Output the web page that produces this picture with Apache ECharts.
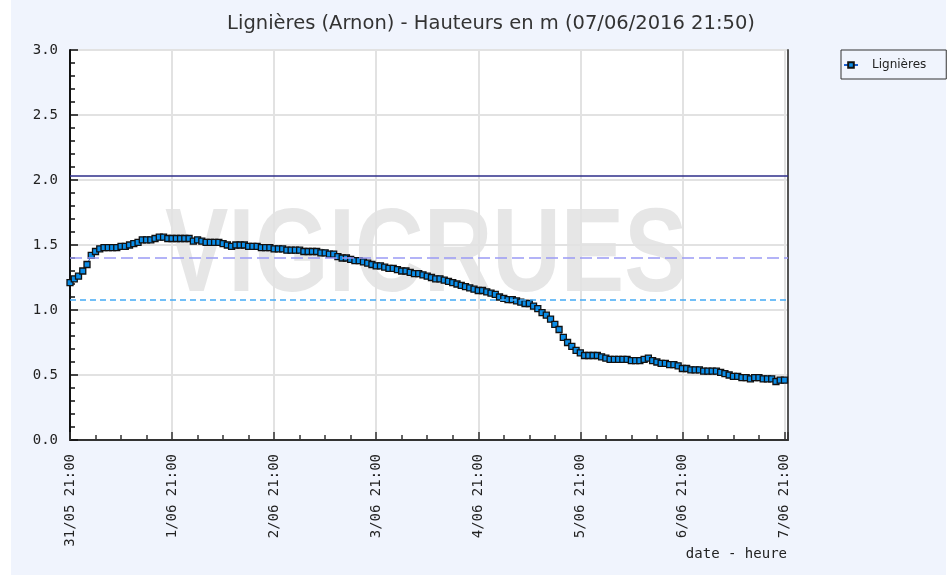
<!DOCTYPE html>
<html>
<head>
<meta charset="utf-8">
<title>Lignières (Arnon)</title>
<script src="https://cdn.jsdelivr.net/npm/echarts@6/dist/echarts.min.js"></script>
<style>
  html, body { margin: 0; padding: 0; background: #fff; }
  #chart { width: 950px; height: 576px; }
</style>
</head>
<body>
<div id="chart"></div>
<script>
// hourly readings from 31/05/2016 21:00 to 07/06/2016 21:00 (m)
const startTime = Date.UTC(2016, 4, 31, 21, 0);
const stepHours = 1;
const heights = [
  1.21, 1.24, 1.26, 1.30, 1.35, 1.42, 1.45, 1.47, 1.48, 1.48,
  1.48, 1.48, 1.49, 1.49, 1.50, 1.51, 1.52, 1.54, 1.54, 1.54,
  1.55, 1.56, 1.56, 1.55, 1.55, 1.55, 1.55, 1.55, 1.55, 1.53,
  1.54, 1.53, 1.52, 1.52, 1.52, 1.52, 1.51, 1.50, 1.49, 1.50,
  1.50, 1.50, 1.49, 1.49, 1.49, 1.48, 1.48, 1.48, 1.47, 1.47,
  1.47, 1.46, 1.46, 1.46, 1.46, 1.45, 1.45, 1.45, 1.45, 1.44,
  1.44, 1.43, 1.43, 1.41, 1.40, 1.40, 1.39, 1.38, 1.38, 1.37,
  1.36, 1.35, 1.34, 1.34, 1.33, 1.32, 1.32, 1.31, 1.30, 1.30,
  1.29, 1.28, 1.28, 1.27, 1.26, 1.25, 1.24, 1.24, 1.23, 1.22,
  1.21, 1.20, 1.19, 1.18, 1.17, 1.16, 1.15, 1.15, 1.14, 1.13,
  1.12, 1.10, 1.09, 1.08, 1.08, 1.07, 1.06, 1.05, 1.05, 1.03,
  1.01, 0.98, 0.96, 0.93, 0.89, 0.85, 0.79, 0.75, 0.72, 0.69,
  0.67, 0.65, 0.65, 0.65, 0.65, 0.64, 0.63, 0.62, 0.62, 0.62,
  0.62, 0.62, 0.61, 0.61, 0.61, 0.62, 0.63, 0.61, 0.60, 0.59,
  0.59, 0.58, 0.58, 0.57, 0.55, 0.55, 0.54, 0.54, 0.54, 0.53,
  0.53, 0.53, 0.53, 0.52, 0.51, 0.50, 0.49, 0.49, 0.48, 0.48,
  0.47, 0.48, 0.48, 0.47, 0.47, 0.47, 0.45, 0.46, 0.46
];
// reference levels drawn as horizontal lines
const thresholds = [2.03, 1.40, 1.08];
const axisEndHours = 168 + 50 / 60; // 07/06 21:50

const pad = (n) => String(n).padStart(2, "0");
const hourLabel = (h) => {
  const d = new Date(startTime + h * 3600 * 1000);
  return d.getUTCDate() + "/" + pad(d.getUTCMonth() + 1) + " " + pad(d.getUTCHours()) + ":00";
};

const points = heights.map((v, i) => [i * stepHours, v]);

const monoFont = "DejaVu Sans Mono";
const myChart = echarts.init(document.getElementById("chart"));

myChart.setOption({
  animation: false,
  backgroundColor: "#ffffff",
  textStyle: { fontFamily: "DejaVu Sans" },
  title: {
    text: "Lignières (Arnon) - Hauteurs en m (07/06/2016 21:50)",
    left: 486,
    textAlign: "center",
    top: 9,
    textStyle: { fontSize: 19.5, fontWeight: "normal", color: "#333", fontFamily: "DejaVu Sans" }
  },
  legend: {
    left: 841,
    top: 50,
    orient: "vertical",
    padding: [9, 20, 8, 2],
    borderColor: "#333",
    borderWidth: 1,
    itemWidth: 14,
    itemHeight: 7,
    itemGap: 4,
    textStyle: { fontSize: 12, color: "#222", fontFamily: "DejaVu Sans", padding: [0, 0, 0, 9] },
    data: ["Lignières"]
  },
  graphic: [
    { type: "rect", z: -20, shape: { x: 11, y: 0, width: 935, height: 575 }, style: { fill: "#f0f4fd" } },
    { type: "rect", z: -19, shape: { x: 70, y: 50, width: 718, height: 390 }, style: { fill: "#ffffff" } },
    {
      type: "text", z: -18, left: 165, top: 199, scaleY: 1.25,
      style: {
        text: "VIGICRUES",
        font: "bold 95px 'Liberation Sans'",
        fill: "rgba(205,205,205,0.5)"
      }
    },
    {
      type: "text", right: 163, top: 547,
      style: { text: "date - heure", font: "14px 'DejaVu Sans Mono'", fill: "#222" }
    }
  ],
  grid: { left: 70, right: 162, top: 50, bottom: 136, show: false },
  xAxis: {
    type: "value",
    min: 0,
    max: axisEndHours,
    interval: 24,
    axisLine: { show: true, onZero: false, lineStyle: { color: "#333", width: 2 } },
    axisTick: { show: true, inside: true, length: 8, lineStyle: { color: "#333", width: 1.5 } },
    minorTick: { show: true, splitNumber: 4, length: 5, lineStyle: { color: "#333", width: 1.5 } },
    splitLine: { show: true, lineStyle: { color: "#e2e2e2", width: 2 } },
    axisLabel: {
      rotate: 90,
      margin: 14,
      fontFamily: monoFont,
      fontSize: 14,
      color: "#222",
      showMaxLabel: false,
      formatter: (h) => (h % 24 === 0 ? hourLabel(h) : "")
    }
  },
  yAxis: [
    {
      type: "value",
      min: 0,
      max: 3,
      interval: 0.5,
      axisLine: { show: true, lineStyle: { color: "#111", width: 2 } },
      axisTick: { show: true, inside: true, length: 8, lineStyle: { color: "#111", width: 1.5 } },
      minorTick: { show: true, splitNumber: 5, length: 5, lineStyle: { color: "#111", width: 1.5 } },
      splitLine: { show: true, lineStyle: { color: "#e2e2e2", width: 2 } },
      axisLabel: {
        margin: 12,
        fontFamily: monoFont,
        fontSize: 14,
        color: "#222",
        formatter: (v) => v.toFixed(1)
      }
    },
    {
      type: "value",
      position: "right",
      min: 0,
      max: 3,
      axisLine: { show: true, lineStyle: { color: "#555", width: 2 } },
      axisTick: { show: false },
      axisLabel: { show: false },
      splitLine: { show: false }
    }
  ],
  series: [
    {
      name: "Lignières",
      type: "line",
      data: points,
      symbol: "rect",
      symbolSize: 6,
      showAllSymbol: true,
      itemStyle: { color: "#0a8de8", borderColor: "#111", borderWidth: 1.3 },
      lineStyle: { color: "#1a5fd0", width: 1 },
      markLine: {
        silent: true,
        symbol: "none",
        label: { show: false },
        data: [
          { yAxis: thresholds[0], lineStyle: { color: "#2e2e8a", width: 1.5, type: "solid" } },
          { yAxis: thresholds[1], lineStyle: { color: "#9a9af5", width: 1.5, type: [12, 5] } },
          { yAxis: thresholds[2], lineStyle: { color: "#44aaf5", width: 1.5, type: [6, 4] } }
        ]
      }
    }
  ]
});
</script>
</body>
</html>
